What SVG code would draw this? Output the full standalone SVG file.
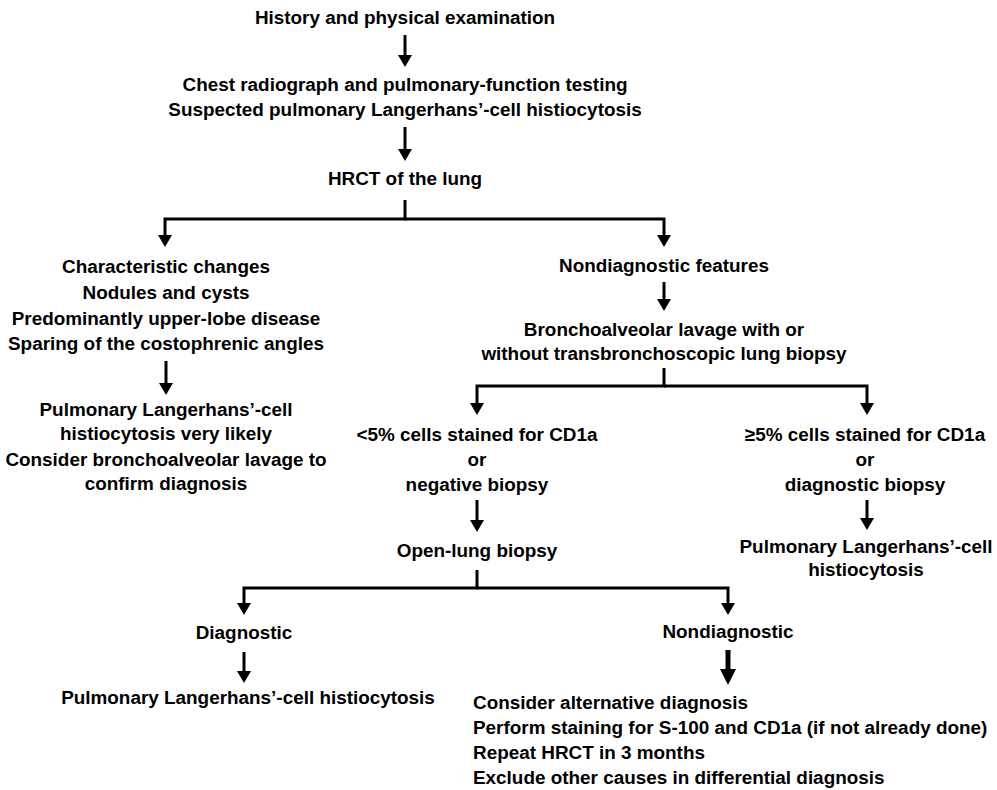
<svg xmlns="http://www.w3.org/2000/svg" width="997" height="790" viewBox="0 0 997 790">
<style>
  text { font-family: "Liberation Sans", Arial, sans-serif; font-weight: bold; font-size: 18.9px; fill: #000; text-anchor: middle; }
  text.left { text-anchor: start; }
  .conn { fill: none; stroke: #000; stroke-width: 3; stroke-linejoin: miter; }
  .thick { stroke-width: 5; }
</style>
<defs>
  <marker id="ah" viewBox="0 0 12 14" markerWidth="12" markerHeight="14" refX="4" refY="7" orient="auto" markerUnits="userSpaceOnUse">
    <path d="M0,0 L12,7 L0,14 z" fill="#000"/>
  </marker>
  <marker id="ahb" viewBox="0 0 16 16" markerWidth="16" markerHeight="16" refX="5" refY="8" orient="auto" markerUnits="userSpaceOnUse">
    <path d="M0,0 L16,8 L0,16 z" fill="#000"/>
  </marker>
</defs>
<rect width="997" height="790" fill="#fff"/>
<g id="connectors">
  <path class="conn" d="M405,35 V59" marker-end="url(#ah)"/>
  <path class="conn" d="M405,127 V153" marker-end="url(#ah)"/>
  <path class="conn" d="M405,200 V219 H165 V239" marker-end="url(#ah)"/>
  <path class="conn" d="M405,219 H664 V239" marker-end="url(#ah)"/>
  <path class="conn" d="M166,361 V387" marker-end="url(#ah)"/>
  <path class="conn" d="M664,282 V303" marker-end="url(#ah)"/>
  <path class="conn" d="M664,368 V386 H477 V407" marker-end="url(#ah)"/>
  <path class="conn" d="M664,386 H867 V407" marker-end="url(#ah)"/>
  <path class="conn" d="M477,500 V524" marker-end="url(#ah)"/>
  <path class="conn" d="M867,500 V522" marker-end="url(#ah)"/>
  <path class="conn" d="M477,570 V588 H244 V607" marker-end="url(#ah)"/>
  <path class="conn" d="M477,588 H728 V607" marker-end="url(#ah)"/>
  <path class="conn" d="M244,652 V675" marker-end="url(#ah)"/>
  <path class="conn thick" d="M728,650 V674" marker-end="url(#ahb)"/>
</g>
<g id="history"><text x="405" y="24">History and physical examination</text></g>
<g id="chest">
  <text x="405" y="91">Chest radiograph and pulmonary-function testing</text>
  <text x="405" y="116">Suspected pulmonary Langerhans’-cell histiocytosis</text>
</g>
<g id="hrct"><text x="405" y="185">HRCT of the lung</text></g>
<g id="characteristic">
  <text x="166" y="273">Characteristic changes</text>
  <text x="166" y="299">Nodules and cysts</text>
  <text x="166" y="325">Predominantly upper-lobe disease</text>
  <text x="166" y="350">Sparing of the costophrenic angles</text>
</g>
<g id="likely">
  <text x="166" y="416">Pulmonary Langerhans’-cell</text>
  <text x="166" y="440">histiocytosis very likely</text>
  <text x="166" y="466">Consider bronchoalveolar lavage to</text>
  <text x="166" y="490">confirm diagnosis</text>
</g>
<g id="nondiag-features"><text x="664" y="272">Nondiagnostic features</text></g>
<g id="bal">
  <text x="664" y="336">Bronchoalveolar lavage with or</text>
  <text x="664" y="360">without transbronchoscopic lung biopsy</text>
</g>
<g id="lt5">
  <text x="477" y="441">&lt;5% cells stained for CD1a</text>
  <text x="477" y="466">or</text>
  <text x="477" y="491">negative biopsy</text>
</g>
<g id="ge5">
  <text x="865" y="441">≥5% cells stained for CD1a</text>
  <text x="865" y="466">or</text>
  <text x="865" y="491">diagnostic biopsy</text>
</g>
<g id="plch-right">
  <text x="866" y="553">Pulmonary Langerhans’-cell</text>
  <text x="866" y="576">histiocytosis</text>
</g>
<g id="openlung"><text x="477" y="557">Open-lung biopsy</text></g>
<g id="diagnostic"><text x="244" y="639">Diagnostic</text></g>
<g id="nondiagnostic"><text x="728" y="638">Nondiagnostic</text></g>
<g id="plch-bottom"><text x="248" y="704">Pulmonary Langerhans’-cell histiocytosis</text></g>
<g id="alternatives">
  <text class="left" x="473" y="709">Consider alternative diagnosis</text>
  <text class="left" x="473" y="734">Perform staining for S-100 and CD1a (if not already done)</text>
  <text class="left" x="473" y="759">Repeat HRCT in 3 months</text>
  <text class="left" x="473" y="784">Exclude other causes in differential diagnosis</text>
</g>
</svg>
